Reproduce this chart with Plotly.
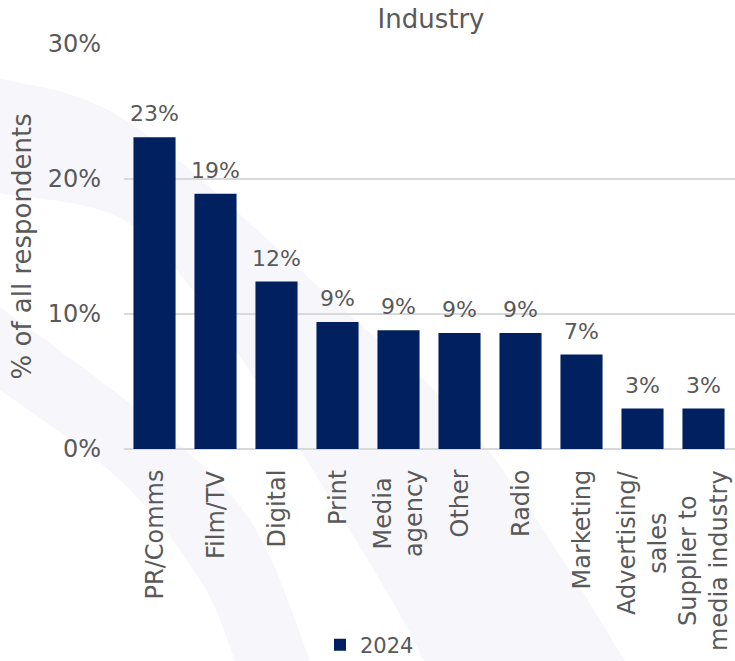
import plotly.graph_objects as go

# Share of respondents by industry, 2024 survey
categories = [
    "PR/Comms", "Film/TV", "Digital", "Print", "Media<br>agency", "Other",
    "Radio", "Marketing", "Advertising/<br>sales", "Supplier to<br>media industry",
]
share_2024 = [23.1, 18.9, 12.4, 9.4, 8.8, 8.6, 8.6, 7.0, 3.0, 3.0]
y_tick_values = [0, 10, 20, 30]
y_tick_labels = ["0%", "10%", "20%", "30%"]

NAVY = "#002060"
GREY_TEXT = "#595959"
GRID = "#d9d9d9"
SWOOSH = "#f7f7fb"
FONT = "DejaVu Sans, Verdana, sans-serif"

W, H = 735, 661
L, R, T, B = 124, 0, 44, 212
PW, PH = W - L - R, H - T - B


def to_paper(px, py):
    return (px - L) / PW, (H - B - py) / PH


def spline(points):
    """Catmull-Rom curve through pixel points, as SVG cubic segments in paper units."""
    segs = []
    n = len(points)
    for i in range(n - 1):
        p0 = points[i - 1] if i > 0 else points[i]
        p1, p2 = points[i], points[i + 1]
        p3 = points[i + 2] if i + 2 < n else points[i + 1]
        c1 = (p1[0] + (p2[0] - p0[0]) / 6, p1[1] + (p2[1] - p0[1]) / 6)
        c2 = (p2[0] - (p3[0] - p1[0]) / 6, p2[1] - (p3[1] - p1[1]) / 6)
        a, b, c = to_paper(*c1), to_paper(*c2), to_paper(*p2)
        segs.append(f"C {a[0]:.4f},{a[1]:.4f} {b[0]:.4f},{b[1]:.4f} {c[0]:.4f},{c[1]:.4f}")
    return " ".join(segs)


def band_path(upper, lower):
    s = to_paper(*upper[0])
    e = to_paper(*lower[-1])
    return (f"M {s[0]:.4f},{s[1]:.4f} " + spline(upper) +
            f" L {e[0]:.4f},{e[1]:.4f} " + spline(lower[::-1]) + " Z")


# decorative background swooshes (pixel outlines)
outer_upper = [(-20, 72), (0, 78), (130, 123), (333, 300), (480, 440), (625, 661), (640, 700)]
outer_lower = [(-20, 189), (0, 193), (120, 218), (200, 300), (300, 450), (403, 620), (440, 700)]
inner_upper = [(-20, 295), (0, 307), (150, 420), (250, 520), (310, 661), (320, 700)]
inner_lower = [(-20, 378), (0, 390), (120, 480), (200, 580), (235, 661), (245, 700)]

shapes = [
    dict(type="path", xref="paper", yref="paper", layer="below",
         path=band_path(outer_upper, outer_lower), fillcolor=SWOOSH, line=dict(width=0)),
    dict(type="path", xref="paper", yref="paper", layer="below",
         path=band_path(inner_upper, inner_lower), fillcolor=SWOOSH, line=dict(width=0)),
]

fig = go.Figure()
fig.add_trace(go.Bar(
    x=categories, y=share_2024, name="2024",
    marker=dict(color=NAVY, line=dict(width=0)),
    showlegend=True,
))

# value labels above each bar
annotations = [
    dict(x=c, y=v, xref="x", yref="y", text=f"{v:.0f}%", showarrow=False,
         yanchor="bottom", yshift=9, font=dict(size=22, color=GREY_TEXT, family=FONT))
    for c, v in zip(categories, share_2024)
]
# category labels, rotated, multi-line entries centred on each other
annotations += [
    dict(x=c, y=0, xref="x", yref="y", text=c, textangle=-90, align="center",
         showarrow=False, xanchor="center", yanchor="top", yshift=-19,
         font=dict(size=24, color=GREY_TEXT, family=FONT))
    for c in categories
]
# y-axis title
annotations.append(dict(
    x=to_paper(21, 0)[0], y=0.5, xref="paper", yref="paper", xanchor="center", yanchor="middle",
    text="% of all respondents", textangle=-90, showarrow=False,
    font=dict(size=26, color=GREY_TEXT, family=FONT),
))

fig.update_layout(
    width=W, height=H,
    margin=dict(l=L, r=R, t=T, b=B, autoexpand=False),
    paper_bgcolor="white", plot_bgcolor="rgba(0,0,0,0)",
    font=dict(family=FONT, color=GREY_TEXT),
    title=dict(text="Industry", x=to_paper(431, 0)[0], xref="paper", xanchor="center",
               y=1 - 19 / H, yanchor="middle", font=dict(size=26, color=GREY_TEXT, family=FONT)),
    bargap=0.31,
    shapes=shapes,
    annotations=annotations,
    legend=dict(orientation="h", x=to_paper(320, 0)[0], xanchor="left",
                y=to_paper(0, 645)[1], yanchor="middle",
                font=dict(size=21, color=GREY_TEXT, family=FONT),
                bgcolor="rgba(0,0,0,0)"),
)
fig.update_xaxes(showticklabels=False, showgrid=False, showline=False, ticks="",
                 automargin=False)
fig.update_yaxes(
    range=[0, 30], tickvals=y_tick_values, ticktext=y_tick_labels,
    tickfont=dict(size=24, color=GREY_TEXT, family=FONT),
    showgrid=True, gridcolor=GRID, gridwidth=1.5,
    zeroline=True, zerolinecolor=GRID, zerolinewidth=2,
    showline=False, ticks="", automargin=False, ticklabelstandoff=22,
)

fig.write_html("out.html")
